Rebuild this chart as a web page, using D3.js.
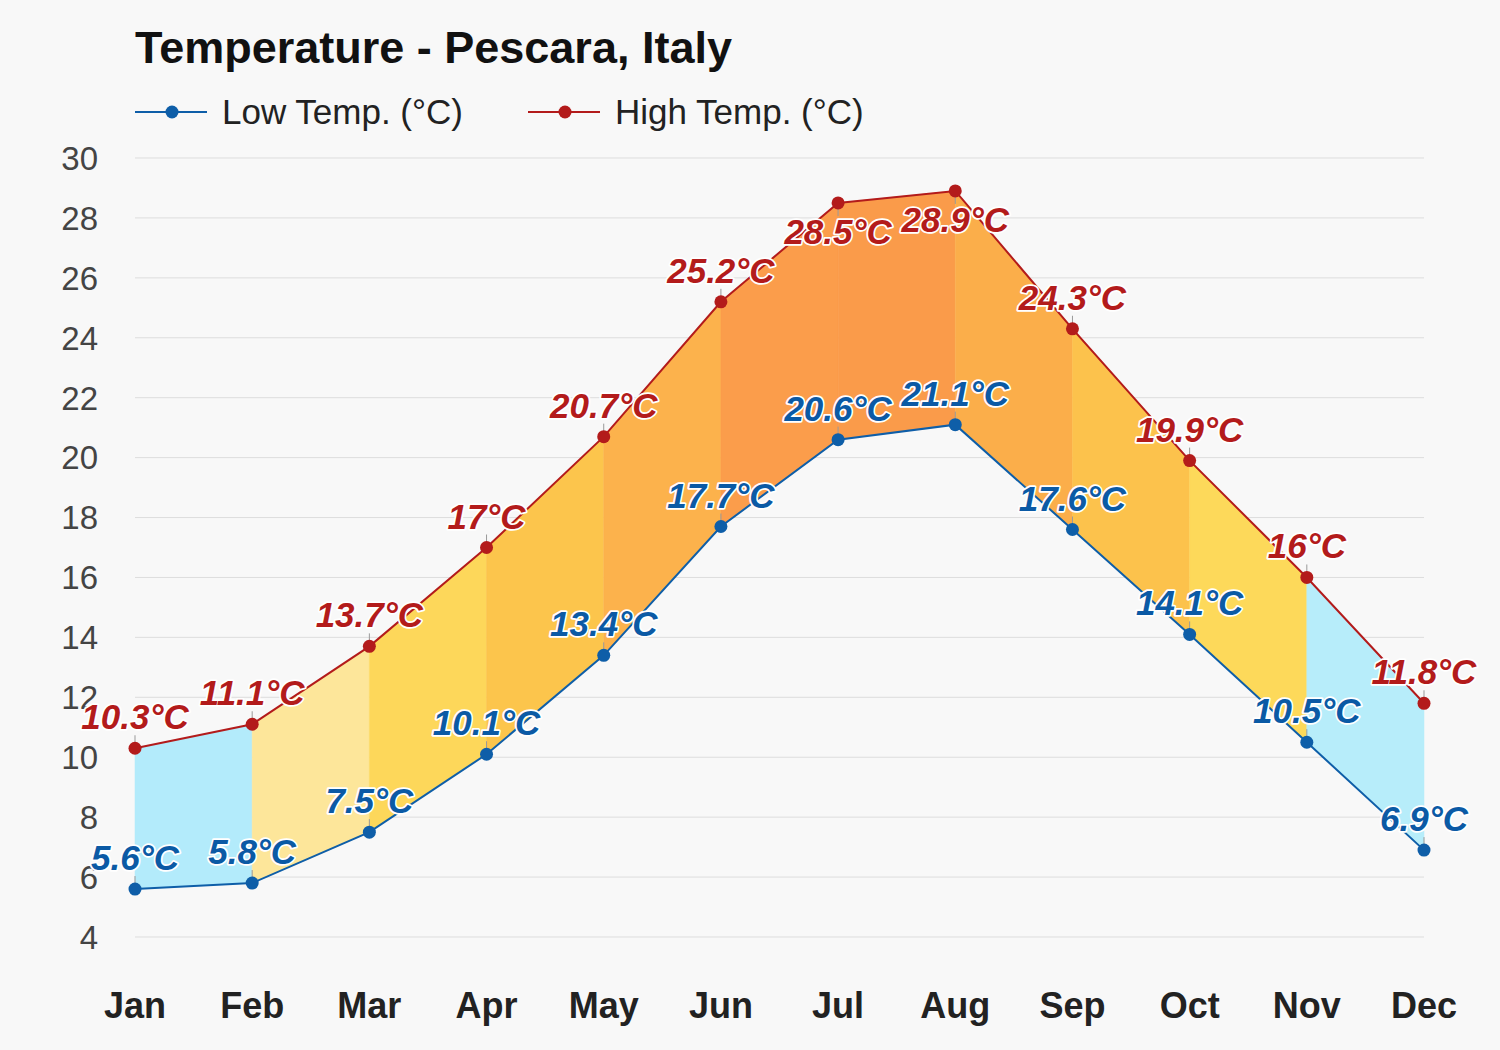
<!DOCTYPE html>
<html>
<head>
<meta charset="utf-8">
<script src="https://cdn.jsdelivr.net/npm/d3@7"></script>
<style>
  html, body { margin: 0; padding: 0; background: #f8f8f8; }
  svg { display: block; font-family: "Liberation Sans", Arial, Helvetica, sans-serif; }
</style>
</head>
<body>
<svg id="chart" width="1500" height="1050"></svg>
<script>
const months = ["Jan","Feb","Mar","Apr","May","Jun","Jul","Aug","Sep","Oct","Nov","Dec"];
const lowTemps = [5.6, 5.8, 7.5, 10.1, 13.4, 17.7, 20.6, 21.1, 17.6, 14.1, 10.5, 6.9];
const highTemps = [10.3, 11.1, 13.7, 17, 20.7, 25.2, 28.5, 28.9, 24.3, 19.9, 16, 11.8];
const segmentColors = ["#b3ebfb", "#fde69a", "#fdd75a", "#fcc54c", "#fcb24c", "#fb9d4b", "#fa9b4a", "#fbae4a", "#fcc24c", "#fdd95a", "#b7edfa"];
const yTicks = [4, 6, 8, 10, 12, 14, 16, 18, 20, 22, 24, 26, 28, 30];
const highLabelBelow = [false, false, false, false, false, false, true, true, false, false, false, false];

const svg = d3.select("#chart");
svg.append("rect").attr("width", 1500).attr("height", 1050).attr("fill", "#f8f8f8");

const x = d3.scalePoint().domain(months).range([135, 1424]);
const y = d3.scaleLinear().domain([4, 30]).range([937, 158]);

// gridlines
svg.append("g").selectAll("line").data(yTicks).join("line")
  .attr("x1", 135).attr("x2", 1424)
  .attr("y1", d => y(d)).attr("y2", d => y(d))
  .attr("stroke", "#dddddd").attr("stroke-width", 1);

// y tick labels
svg.append("g").selectAll("text").data(yTicks).join("text")
  .attr("x", 98).attr("y", d => y(d)).attr("dy", "0.36em")
  .attr("text-anchor", "end")
  .attr("font-size", 33).attr("fill", "#444")
  .text(d => d);

// segment fills
const area = d3.area().x(d => x(d.m)).y0(d => y(d.lo)).y1(d => y(d.hi));
const segs = d3.range(months.length - 1).map(i => ({
  pts: [ {m: months[i], lo: lowTemps[i], hi: highTemps[i]}, {m: months[i+1], lo: lowTemps[i+1], hi: highTemps[i+1]} ],
  color: segmentColors[i]
}));
svg.append("g").selectAll("path").data(segs).join("path")
  .attr("d", d => area(d.pts))
  .attr("fill", d => d.color)
  .attr("stroke", d => d.color).attr("stroke-width", 0.5);

// lines
const data = months.map((m, i) => ({m, lo: lowTemps[i], hi: highTemps[i], below: highLabelBelow[i]}));
svg.append("path").datum(data)
  .attr("d", d3.line().x(d => x(d.m)).y(d => y(d.lo)))
  .attr("fill", "none").attr("stroke", "#0e5ea8").attr("stroke-width", 2);
svg.append("path").datum(data)
  .attr("d", d3.line().x(d => x(d.m)).y(d => y(d.hi)))
  .attr("fill", "none").attr("stroke", "#b31b1b").attr("stroke-width", 2);

// small label tick lines
svg.append("g").selectAll("line").data(data).join("line")
  .attr("x1", d => x(d.m)).attr("x2", d => x(d.m))
  .attr("y1", d => y(d.lo) - 13).attr("y2", d => y(d.lo))
  .attr("stroke", "#999").attr("stroke-width", 1);
svg.append("g").selectAll("line").data(data).join("line")
  .attr("x1", d => x(d.m)).attr("x2", d => x(d.m))
  .attr("y1", d => y(d.hi) + (d.below ? 13 : -13)).attr("y2", d => y(d.hi))
  .attr("stroke", "#999").attr("stroke-width", 1);

// dots
svg.append("g").selectAll("circle").data(data).join("circle")
  .attr("cx", d => x(d.m)).attr("cy", d => y(d.lo)).attr("r", 6.5).attr("fill", "#0e5ea8");
svg.append("g").selectAll("circle").data(data).join("circle")
  .attr("cx", d => x(d.m)).attr("cy", d => y(d.hi)).attr("r", 6.5).attr("fill", "#b31b1b");

// data labels
function labels(accessor, color, offset) {
  svg.append("g").selectAll("text").data(data).join("text")
    .attr("x", d => x(d.m))
    .attr("y", d => y(accessor(d)) + offset(d))
    .attr("text-anchor", "middle")
    .attr("font-size", 35).attr("font-weight", "bold").attr("font-style", "italic")
    .attr("fill", color)
    .attr("stroke", "#ffffff").attr("stroke-width", 3.5).attr("stroke-linejoin", "round")
    .attr("paint-order", "stroke")
    .text(d => accessor(d) + "°C");
}
labels(d => d.lo, "#0b5aa5", d => -19);
labels(d => d.hi, "#b31b1b", d => d.below ? 41 : -19);

// x axis labels
svg.append("g").selectAll("text").data(months).join("text")
  .attr("x", d => x(d)).attr("y", 1018)
  .attr("text-anchor", "middle")
  .attr("font-size", 36).attr("font-weight", "bold").attr("fill", "#222")
  .text(d => d);

// title
svg.append("text").attr("x", 135).attr("y", 63)
  .attr("font-size", 45).attr("font-weight", "bold").attr("fill", "#111")
  .text("Temperature - Pescara, Italy");

// legend
const legend = [
  {label: "Low Temp. (°C)", color: "#0e5ea8", x0: 135},
  {label: "High Temp. (°C)", color: "#b31b1b", x0: 528}
];
const lg = svg.append("g").selectAll("g").data(legend).join("g");
lg.append("line").attr("x1", d => d.x0).attr("x2", d => d.x0 + 72)
  .attr("y1", 112).attr("y2", 112).attr("stroke", d => d.color).attr("stroke-width", 2);
lg.append("circle").attr("cx", d => d.x0 + 37).attr("cy", 112).attr("r", 6.5).attr("fill", d => d.color);
lg.append("text").attr("x", d => d.x0 + 87).attr("y", 124)
  .attr("font-size", 35).attr("fill", "#222").text(d => d.label);
</script>
</body>
</html>
